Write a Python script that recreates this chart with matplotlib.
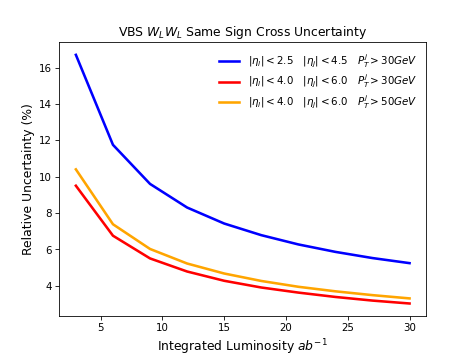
import matplotlib
matplotlib.use('Agg')
import matplotlib.pyplot as plt

# integrated luminosity (ab^-1)
lumi = [3, 6, 9, 12, 15, 18, 21, 24, 27, 30]

# relative uncertainty (%) for each selection
unc_25_45_30 = [16.7, 11.75, 9.6, 8.3, 7.42, 6.78, 6.27, 5.86, 5.52, 5.24]
unc_40_60_30 = [9.5, 6.75, 5.5, 4.78, 4.27, 3.9, 3.62, 3.38, 3.18, 3.02]
unc_40_60_50 = [10.4, 7.38, 6.02, 5.22, 4.67, 4.26, 3.94, 3.69, 3.48, 3.30]

labels = [r'$|\eta_l|<2.5\quad|\eta_j|<4.5\quad P_T^j>30GeV$',
          r'$|\eta_l|<4.0\quad|\eta_j|<6.0\quad P_T^j>30GeV$',
          r'$|\eta_l|<4.0\quad|\eta_j|<6.0\quad P_T^j>50GeV$']

fig = plt.figure(figsize=(6.4, 4.8), dpi=74)
ax = fig.gca()

ax.plot(lumi, unc_25_45_30, color='blue', linewidth=2.5, label=labels[0])
ax.plot(lumi, unc_40_60_30, color='red', linewidth=2.5, label=labels[1])
ax.plot(lumi, unc_40_60_50, color='orange', linewidth=2.5, label=labels[2])

ax.set_xlabel(r'Integrated Luminosity $ab^{-1}$', fontsize=12)
ax.set_ylabel('Relative Uncertainty (%)', fontsize=12)
ax.set_title(r'VBS $W_LW_L$ Same Sign Cross Uncertainty')
ax.legend(loc='upper right', frameon=False, labelspacing=0.3)

plt.savefig('out.png', dpi=74)
